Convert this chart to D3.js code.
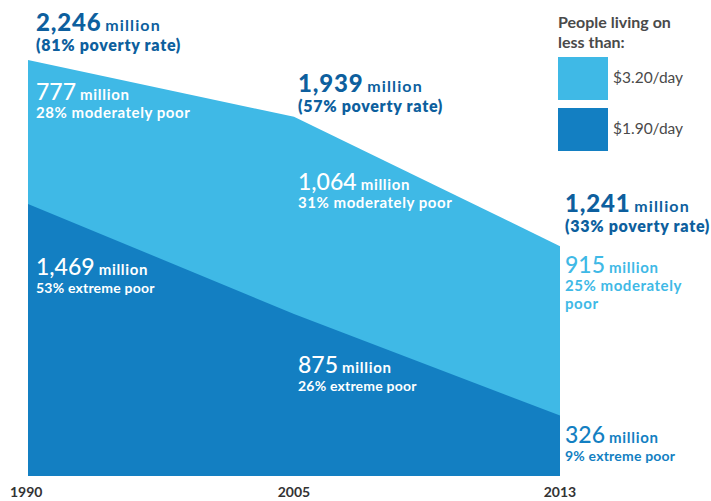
<!DOCTYPE html>
<html><head><meta charset="utf-8">
<script src="https://cdn.jsdelivr.net/npm/d3@7"></script>
<style>
body{margin:0;background:#fff;}
svg{display:block;font-family:Lato,"Noto Sans",sans-serif;}
</style></head>
<body><svg id="c" width="711" height="501"></svg>
<script>
const years = ["1990","2005","2013"];
const totalPoor = [2246, 1939, 1241];
const povertyRate = [81, 57, 33];
const extremePoor = [1469, 875, 326];
const extremeRate = [53, 26, 9];
const moderatePoor = [777, 1064, 915];
const moderateRate = [28, 31, 25];
const legendLabels = ["$3.20/day", "$1.90/day"];

const LIGHT = "#3fb9e6", DARK = "#137fc2", NAVY = "#0d5f9e", GRAY = "#4a4a4a";
const svg = d3.select("#c");
const x = d3.scalePoint().domain(years).range([28, 560]);
const y = d3.scaleLinear().domain([0, 2246]).range([476, 60]);
const fmt = d3.format(",");

const data = years.map((yr,i)=>({yr, total: totalPoor[i], ext: extremePoor[i]}));
svg.append("path").datum(data)
  .attr("fill", LIGHT)
  .attr("d", d3.area().x(d=>x(d.yr)).y0(y(0)).y1(d=>y(d.total)));
svg.append("path").datum(data)
  .attr("fill", DARK)
  .attr("d", d3.area().x(d=>x(d.yr)).y0(y(0)).y1(d=>y(d.ext)));

// x axis labels
svg.selectAll("text.yr").data(years).join("text")
  .attr("class","yr")
  .attr("x", (d,i)=> i===0 ? 10 : x(d))
  .attr("y", 497)
  .attr("text-anchor", (d,i)=> i===0 ? "start" : "middle")
  .attr("font-size", 14).attr("font-weight", 700).attr("fill", "#333")
  .text(d=>d);

function bigLabel(o){
  const t = svg.append("text").attr("x", o.x).attr("y", o.y).attr("fill", o.color);
  t.append("tspan").attr("font-size", o.numSize).attr("font-weight", o.numWeight)
    .attr("letter-spacing", o.numLs||0).text(o.num);
  t.append("tspan").attr("font-size", o.milSize).attr("font-weight", 700)
    .attr("letter-spacing", o.milLs).attr("dx", 4).text("million");
  o.lines.forEach((l,k)=>{
    svg.append("text").attr("x", o.x).attr("y", o.y + o.gap*(k+1))
      .attr("fill", o.color).attr("font-size", o.lineSize).attr("font-weight", o.lineWeight)
      .attr("letter-spacing", o.lineLs).text(l);
  });
}

// totals (navy, bold)
const totalPos = [[36,31],[298,92],[565,212]];
years.forEach((yr,i)=>{
  bigLabel({x: totalPos[i][0], y: totalPos[i][1], num: fmt(totalPoor[i]), numSize: 24, numWeight: 900, numLs: 0.8,
    milSize: 16, milLs: 1.1, color: NAVY, lines: [`(${povertyRate[i]}% poverty rate)`],
    lineSize: 16, lineLs: 0.7, gap: 19.5, lineWeight: 800});
});
// moderate
const modPos = [[36,100],[298,190],[565,273]];
years.forEach((yr,i)=>{
  const last = i===2;
  bigLabel({x: modPos[i][0], y: modPos[i][1], num: fmt(moderatePoor[i]), numSize: 23, numWeight: 500,
    milSize: 15, milLs: 0.7, color: last ? LIGHT : "#fff",
    lines: last ? [`${moderateRate[i]}% moderately`, "poor"] : [`${moderateRate[i]}% moderately poor`],
    lineSize: 15, lineLs: 0.55, gap: 18, lineWeight: 700});
});
// extreme
const extPos = [[36,275],[298,373],[565,443]];
years.forEach((yr,i)=>{
  const last = i===2;
  bigLabel({x: extPos[i][0], y: extPos[i][1], num: fmt(extremePoor[i]), numSize: 23, numWeight: 500,
    milSize: 15, milLs: 0.7, color: last ? DARK : "#fff",
    lines: [`${extremeRate[i]}% extreme poor`], lineSize: 14, lineLs: 0.2, gap: 18, lineWeight: 700});
});

// legend
svg.append("text").attr("x",558).attr("y",28).attr("font-size",16).attr("font-weight",700).attr("fill",GRAY).text("People living on");
svg.append("text").attr("x",558).attr("y",48).attr("font-size",16).attr("font-weight",700).attr("fill",GRAY).text("less than:");
const lg = svg.selectAll("g.lg").data(legendLabels).join("g").attr("class","lg")
  .attr("transform",(d,i)=>`translate(558,${57+i*51})`);
lg.append("rect").attr("width",50).attr("height",43).attr("fill",(d,i)=> i===0?LIGHT:DARK);
lg.append("text").attr("x",55).attr("y",26).attr("font-size",15.5).attr("fill",GRAY).text(d=>d);
</script></body></html>
